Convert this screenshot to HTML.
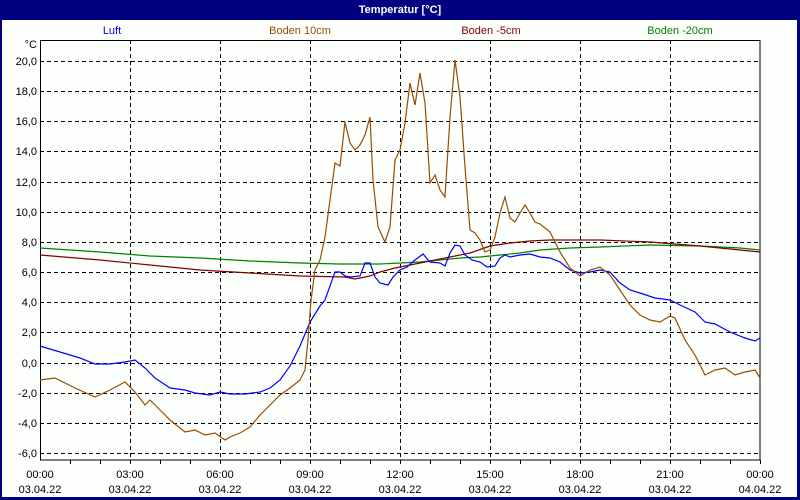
<!DOCTYPE html>
<html><head><style>
body{margin:0;width:800px;height:500px;overflow:hidden;background:#fff}
svg{display:block;font-family:"Liberation Sans","DejaVu Sans",sans-serif;font-size:11px}
</style></head><body>
<svg width="800" height="500" xmlns="http://www.w3.org/2000/svg">
<rect x="0" y="0" width="800" height="500" fill="#000080"/>
<rect x="2" y="20" width="795" height="477" fill="#fcfffc"/>
<text x="400" y="13" fill="#fff" font-weight="bold" text-anchor="middle" font-size="11">Temperatur [°C]</text>
<g text-anchor="middle">
<text x="112" y="34" fill="#0000e0">Luft</text>
<text x="300" y="34" fill="#994c00">Boden 10cm</text>
<text x="491" y="34" fill="#800000">Boden -5cm</text>
<text x="680" y="34" fill="#008000">Boden -20cm</text>
</g>
<g stroke="#000" stroke-dasharray="4,3" stroke-width="1">
<path d="M40 61.5H760M40 91.5H760M40 121.5H760M40 151.5H760M40 182.5H760M40 212.5H760M40 242.5H760M40 272.5H760M40 302.5H760M40 332.5H760M40 363.5H760M40 393.5H760M40 423.5H760M40 453.5H760"/>
<path d="M130.5 40V460M220.5 40V460M310.5 40V460M400.5 40V460M490.5 40V460M580.5 40V460M670.5 40V460"/>
</g>
<rect x="40.5" y="40.5" width="719.5" height="419.5" fill="none" stroke="#000"/>
<g stroke="#000"><path d="M70.5 460v4M100.5 460v4M130.5 460v4M160.5 460v4M190.5 460v4M220.5 460v4M250.5 460v4M280.5 460v4M310.5 460v4M340.5 460v4M370.5 460v4M400.5 460v4M430.5 460v4M460.5 460v4M490.5 460v4M520.5 460v4M550.5 460v4M580.5 460v4M610.5 460v4M640.5 460v4M670.5 460v4M700.5 460v4M730.5 460v4M760.5 460v4"/></g>
<g text-anchor="end">
<text x="37" y="48">°C</text>
<text x="37" y="65">20,0</text><text x="37" y="95">18,0</text><text x="37" y="125">16,0</text><text x="37" y="155">14,0</text><text x="37" y="186">12,0</text><text x="37" y="216">10,0</text><text x="37" y="246">8,0</text><text x="37" y="276">6,0</text><text x="37" y="306">4,0</text><text x="37" y="336">2,0</text><text x="37" y="367">0,0</text><text x="37" y="397">-2,0</text><text x="37" y="427">-4,0</text><text x="37" y="457">-6,0</text>
</g>
<g text-anchor="middle">
<text x="40" y="478">00:00</text><text x="40" y="493">03.04.22</text>
<text x="130" y="478">03:00</text><text x="130" y="493">03.04.22</text>
<text x="220" y="478">06:00</text><text x="220" y="493">03.04.22</text>
<text x="310" y="478">09:00</text><text x="310" y="493">03.04.22</text>
<text x="400" y="478">12:00</text><text x="400" y="493">03.04.22</text>
<text x="490" y="478">15:00</text><text x="490" y="493">03.04.22</text>
<text x="580" y="478">18:00</text><text x="580" y="493">03.04.22</text>
<text x="670" y="478">21:00</text><text x="670" y="493">03.04.22</text>
<text x="760" y="478">00:00</text><text x="760" y="493">04.04.22</text>
</g>
<g fill="none" stroke-width="1.2">
<polyline stroke="#008000" points="40,248 100,252 150,256 200,258 250,261 300,263 340,264 380,264 400,263 420,262 440,260 460,258 480,257 500,255 520,253 540,250 570,248 600,247 650,245 700,246 740,248 760,250"/>
<polyline stroke="#800000" points="40,255 100,260 150,265 200,270 250,273 300,276 345,277 355,279 370,276 380,272 395,268 410,265 430,261 450,257 470,253 490,246 510,243 530,241 550,240 600,240 650,242 700,246 760,252"/>
<polyline stroke="#0000ff" points="40,346 60,352 80,358 95,364 110,364 125,362 135,360 145,368 155,378 170,388 185,390 195,393 210,395 220,392 230,394 245,394 260,392 270,388 280,380 290,366 300,346 310,322 320,306 325,300 335,272 340,272 345,276 350,277 360,276 365,263 370,263 375,277 380,283 388,285 393,277 400,270 407,267 415,260 423,254 430,262 440,263 445,266 450,253 455,245 460,246 465,255 472,260 480,262 487,267 495,266 500,258 505,255 510,257 520,255 530,254 540,257 550,258 560,262 570,270 580,273 590,272 600,270 610,272 620,283 630,290 640,293 655,298 670,300 680,305 695,312 705,322 715,324 730,332 745,338 755,341 760,338"/>
<polyline stroke="#994c00" points="40,380 55,378 75,388 95,397 110,390 125,382 135,392 145,405 150,400 160,410 170,420 185,432 195,430 205,435 215,433 225,440 230,437 240,433 250,427 260,415 270,405 280,395 290,388 300,380 305,370 308,340 311,300 315,270 320,260 325,237 330,200 335,163 340,166 345,122 350,143 355,150 360,145 365,135 370,117 373,180 378,227 385,242 390,227 395,160 400,150 405,123 410,83 415,105 420,73 425,103 430,183 435,175 440,190 445,197 450,117 455,60 460,97 465,167 470,230 475,233 480,240 485,252 490,250 495,237 500,213 505,197 510,218 515,222 520,213 525,205 530,213 535,222 540,224 550,232 560,252 570,268 580,276 590,270 600,267 610,275 620,290 630,305 640,315 650,320 660,322 670,316 675,318 685,340 695,355 705,375 715,370 725,368 735,375 745,372 755,370 760,378"/>
</g>
</svg>
</body></html>
